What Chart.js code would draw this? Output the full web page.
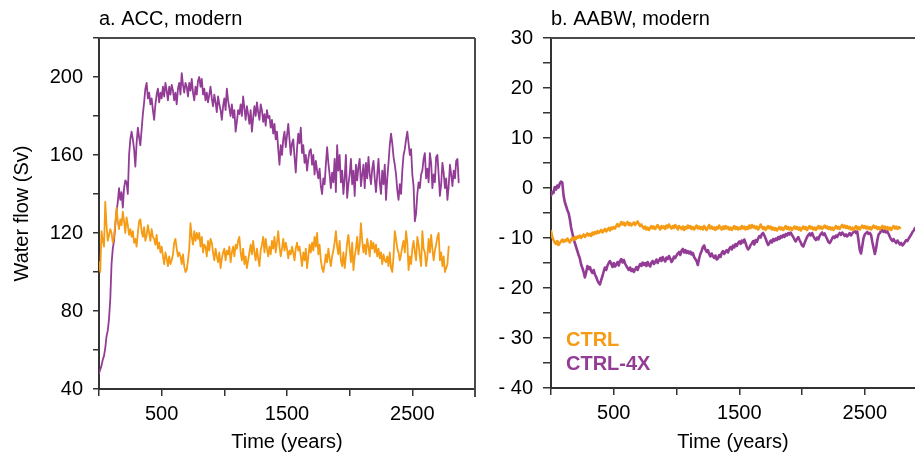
<!DOCTYPE html>
<html>
<head>
<meta charset="utf-8">
<script src="https://cdn.jsdelivr.net/npm/chart.js@4/dist/chart.umd.min.js"></script>
<style>
html,body{margin:0;padding:0;background:#fff;overflow:hidden;width:915px;height:459px;}
#c1{position:absolute;left:0;top:0;}
#c2{position:absolute;left:490px;top:0;}
</style>
</head>
<body>
<canvas id="c1" width="490" height="459"></canvas>
<canvas id="c2" width="425" height="459"></canvas>
<script>
// ---------------- data (one value every 10 years) ----------------
const yearStep = 10;
const seriesNames = ['CTRL', 'CTRL-4X'];
const panelTitles = ['a. ACC, modern', 'b. AABW, modern'];
const xTitle = 'Time (years)';
const yTitle = 'Water flow (Sv)';

// panel a, CTRL (years 0..2790)
const accCtrl = [
 105,100,121,116,113,136,124,116,119,122,
 120,115,118,125,133,126,122,127,124,131,
 126,120,128,124,119,122,118,121,115,117,
 113,120,126,127,121,118,123,116,119,124,
 120,116,122,118,117,114,119,112,115,110,
 113,108,104,110,107,103,108,104,106,109,
 115,117,112,108,110,108,104,109,103,100,
 101,106,112,125,118,114,121,116,120,117,
 120,113,118,110,114,113,108,116,111,117,
 115,110,106,112,108,105,110,102,107,110,
 112,106,111,109,113,105,110,113,108,114,
 112,116,118,110,106,112,104,108,102,106,
 110,114,109,116,110,106,112,107,103,111,
 114,118,110,117,112,108,113,109,116,112,
 118,110,115,121,113,108,112,117,111,115,
 112,107,111,109,113,110,106,112,115,111,
 113,108,103,110,106,112,102,108,114,110,
 115,111,118,113,120,109,114,106,102,100,
 104,109,105,112,107,103,108,111,115,121,
 113,109,116,106,103,110,102,108,115,119,
 112,105,115,101,108,112,118,109,114,125,
 116,110,114,109,117,113,108,116,112,115,
 110,114,108,112,107,110,104,109,106,105,
 108,103,110,102,100,108,121,117,112,110,
 106,109,113,116,110,121,115,101,108,104,
 112,116,110,106,118,114,108,103,121,112,
 110,103,108,117,110,119,112,106,111,114,
 118,120,106,110,103,108,100,102,104,113
];

// panel a, CTRL-4X (years 0..2870)
const accCtrl4x = [
 48,50,52,55,57,61,67,70,76,86,
 104,112,116,124,131,136,143,137,141,133,
 143,147,146,140,160,168,172,168,163,154,
 166,174,169,165,173,181,187,194,197,189,
 192,186,189,183,178,186,191,194,187,192,
 189,195,190,197,193,188,195,191,196,193,
 188,192,186,194,197,191,202,196,192,197,
 195,190,197,193,199,192,188,195,191,198,
 200,195,199,191,194,188,192,187,191,195,
 189,185,191,187,182,190,186,183,178,185,
 189,183,194,188,184,180,186,179,183,172,
 177,183,181,186,180,190,184,178,185,181,
 176,183,172,179,185,180,187,182,178,186,
 183,177,181,175,183,179,180,174,178,171,
 176,168,172,163,155,165,160,168,172,164,
 170,176,168,160,166,168,159,151,163,171,
 166,174,161,165,156,160,152,158,162,163,
 155,160,150,157,152,148,153,144,140,148,
 145,155,164,156,150,143,151,146,158,141,
 165,152,160,146,152,140,148,160,138,145,
 150,158,145,152,139,155,147,154,158,144,
 150,155,143,156,148,159,150,145,153,157,
 148,141,150,158,146,140,152,145,155,137,
 148,156,165,171,166,159,155,150,142,137,
 145,140,152,160,163,168,172,166,160,163,
 150,144,126,130,140,146,143,150,152,158,
 161,148,153,146,161,156,143,150,146,159,
 160,150,139,145,156,151,143,148,137,144,
 155,150,144,152,148,157,158,146
];

// panel b, CTRL (years 0..2780)
const aabwCtrl = [
 -8.6,-9.8,-10.4,-10.9,-11.2,-10.6,-11.4,-11.0,-10.7,-10.3,
 -10.8,-10.4,-10.6,-10.1,-10.5,-10.9,-10.3,-10.0,-10.4,-9.8,
 -10.2,-9.7,-9.9,-9.5,-10.0,-9.6,-9.3,-9.8,-9.4,-9.1,
 -9.5,-9.2,-9.6,-8.9,-9.3,-8.8,-9.1,-8.6,-9.0,-8.7,
 -8.4,-8.9,-8.5,-8.2,-8.7,-8.3,-8.0,-8.5,-7.9,-8.2,
 -7.8,-8.1,-7.6,-7.2,-7.7,-7.4,-6.8,-7.3,-6.9,-7.5,
 -7.1,-6.8,-7.4,-7.0,-7.5,-7.2,-6.9,-7.4,-7.0,-6.7,
 -7.2,-7.6,-7.3,-7.8,-8.1,-7.7,-8.3,-7.9,-8.4,-8.0,
 -7.6,-8.1,-7.7,-8.2,-7.8,-7.4,-7.9,-8.3,-7.6,-8.0,
 -7.7,-8.2,-7.5,-7.9,-7.3,-7.8,-8.1,-7.6,-8.0,-7.4,
 -7.8,-8.3,-7.6,-7.9,-8.2,-7.7,-8.4,-7.8,-8.1,-7.5,
 -8.0,-7.6,-8.2,-7.8,-8.3,-7.9,-7.5,-8.1,-7.7,-8.2,
 -7.8,-8.3,-7.6,-8.0,-8.4,-7.9,-7.4,-8.1,-7.7,-8.2,
 -7.9,-8.4,-7.8,-8.1,-7.5,-8.0,-8.3,-7.7,-8.2,-7.6,
 -8.1,-7.8,-8.3,-7.9,-8.4,-8.0,-7.6,-8.2,-7.8,-8.3,
 -7.9,-8.2,-7.6,-8.1,-7.7,-8.3,-7.8,-8.2,-7.5,-8.0,
 -7.4,-7.9,-7.6,-8.1,-7.7,-8.3,-7.9,-7.3,-7.8,-8.2,
 -7.8,-8.4,-8.0,-7.6,-8.1,-7.7,-8.3,-7.9,-8.4,-8.0,
 -8.5,-8.1,-7.8,-8.3,-7.9,-8.4,-8.0,-7.6,-8.2,-7.8,
 -8.3,-7.9,-8.4,-8.0,-7.7,-8.2,-7.8,-8.3,-7.9,-8.5,
 -8.1,-7.7,-8.2,-7.8,-8.4,-8.0,-7.6,-8.1,-7.8,-8.3,
 -7.9,-8.4,-8.0,-7.6,-8.1,-7.7,-8.2,-7.9,-7.5,-8.0,
 -7.7,-8.2,-7.8,-8.3,-7.9,-8.4,-8.0,-7.6,-8.1,-7.8,
 -8.2,-7.7,-7.4,-7.9,-7.5,-8.0,-7.6,-8.1,-7.8,-8.3,
 -7.9,-8.4,-8.0,-7.6,-8.2,-7.8,-8.3,-7.9,-7.5,-8.0,
 -7.6,-8.1,-7.7,-8.2,-7.8,-8.3,-7.9,-7.5,-8.0,-7.7,
 -8.2,-7.8,-8.3,-7.9,-7.6,-8.1,-7.7,-8.2,-7.8,-8.3,
 -7.9,-8.4,-8.0,-7.6,-8.1,-7.7,-8.2,-7.8,-8.0
];

// panel b, CTRL-4X (years 0..2900)
const aabwCtrl4x = [
 -1.5,-0.8,-1.0,0.2,-0.3,0.5,0.1,0.9,1.3,1.1,
 -1.5,-2.8,-3.6,-4.4,-5.0,-6.2,-7.9,-9.0,-10.2,-11.0,
 -11.8,-12.6,-13.4,-14.1,-15.3,-16.0,-16.8,-17.9,-16.9,-15.6,
 -16.2,-15.8,-16.6,-17.0,-16.4,-17.3,-17.8,-18.5,-19.0,-19.3,
 -18.4,-17.6,-16.7,-15.9,-16.4,-15.5,-15.0,-14.6,-15.2,-15.8,
 -15.0,-15.7,-15.3,-14.8,-15.5,-14.6,-14.2,-14.9,-14.4,-15.1,
 -15.6,-16.0,-16.4,-15.9,-16.6,-16.2,-16.8,-16.3,-15.8,-16.4,
 -15.7,-15.2,-15.6,-14.9,-15.4,-15.0,-15.6,-14.8,-15.3,-15.7,
 -14.9,-14.6,-15.2,-14.8,-14.3,-15.0,-14.5,-14.0,-14.6,-13.8,
 -14.3,-14.7,-13.9,-14.2,-13.6,-14.1,-14.8,-14.4,-13.7,-14.0,
 -13.5,-13.1,-12.8,-13.4,-12.5,-12.2,-12.9,-12.4,-13.0,-12.6,
 -13.1,-12.7,-13.3,-13.0,-13.8,-14.2,-14.6,-15.4,-14.1,-13.2,
 -12.6,-11.8,-11.5,-12.3,-12.8,-12.4,-13.2,-13.7,-13.1,-13.6,
 -14.0,-13.5,-14.3,-14.1,-13.4,-13.8,-13.0,-12.6,-13.2,-12.8,
 -12.4,-12.9,-12.2,-11.8,-12.3,-11.5,-11.9,-11.2,-11.6,-11.0,
 -10.7,-11.2,-10.5,-10.9,-10.3,-11.0,-11.8,-12.3,-12.0,-11.4,
 -11.1,-10.6,-11.3,-10.4,-10.8,-10.1,-9.6,-9.9,-9.2,-9.0,
 -9.5,-10.1,-10.8,-11.4,-11.0,-10.5,-10.9,-10.2,-10.6,-10.1,
 -10.4,-9.8,-10.2,-9.6,-9.9,-9.4,-9.8,-9.2,-9.5,-9.0,
 -9.3,-8.9,-9.4,-9.8,-10.3,-10.7,-10.2,-9.8,-10.4,-10.9,
 -11.5,-11.7,-11.0,-10.4,-9.8,-9.4,-9.1,-9.5,-9.0,-9.6,
 -10.1,-10.4,-9.9,-10.3,-9.6,-9.2,-8.9,-9.4,-9.1,-9.7,
 -10.2,-10.8,-11.0,-10.6,-10.1,-9.7,-10.0,-9.5,-9.8,-9.3,
 -9.0,-9.4,-8.9,-9.2,-9.6,-9.3,-9.7,-9.4,-9.0,-9.5,
 -9.1,-8.8,-8.6,-9.0,-8.7,-10.5,-12.4,-13.1,-11.6,-10.0,
 -9.3,-9.0,-8.8,-9.2,-9.0,-9.4,-10.8,-12.0,-13.2,-12.1,
 -10.4,-9.3,-9.0,-8.6,-8.4,-8.8,-8.5,-8.9,-8.7,-9.2,
 -9.8,-10.3,-10.6,-10.2,-10.7,-11.0,-10.5,-10.9,-11.3,-11.0,
 -11.5,-11.2,-10.8,-10.4,-10.6,-10.1,-9.7,-9.3,-8.8,-8.5,
 -8.0
];

// axes
const accXTicks = [0, 500, 1000, 1500, 2000, 2500, 3000];
const aabwXTicks = [0, 500, 1000, 1500, 2000, 2500];
const xLabeled = [500, 1500, 2500];
const accYTicks = [40, 60, 80, 100, 120, 140, 160, 180, 200, 220];
const accYLabeled = [40, 80, 120, 160, 200];
const aabwYTicks = [-40, -35, -30, -25, -20, -15, -10, -5, 0, 5, 10, 15, 20, 25, 30];
const aabwYLabeled = [-40, -30, -20, -10, 0, 10, 20, 30];
const aabwYLabels = ['- 40', '- 30', '- 20', '- 10', '0', '10', '20', '30'];

// ---------------- styling ----------------
const ORANGE = '#F59B14';
const PURPLE = '#923C96';
const FONT = "'Liberation Sans', Arial, Helvetica, sans-serif";
const AXIS = '#333333';

function toPts(arr) { return arr.map((v, i) => ({x: i * yearStep, y: v})); }
function setTicks(list) { return s => { s.ticks = list.map(v => ({value: v})); }; }

const framePlugin = {
  id: 'frame',
  afterDraw(chart, args, o) {
    const {ctx} = chart;
    const {left, right, top, bottom} = chart.chartArea;
    ctx.save();
    ctx.strokeStyle = '#4a4a4a';
    ctx.lineWidth = 2;
    ctx.beginPath();
    ctx.moveTo(left, top);
    ctx.lineTo(o.toEdge ? chart.width : right, top);
    if (o.rightSide) {
      ctx.moveTo(right, top);
      ctx.lineTo(right, bottom + 8);
    }
    ctx.stroke();
    ctx.restore();
  }
};

const textLegend = {
  id: 'textLegend',
  afterDraw(chart, args, o) {
    if (!o.show) return;
    const {ctx} = chart;
    const {left, bottom} = chart.chartArea;
    ctx.save();
    ctx.font = 'bold 20px ' + FONT;
    ctx.textAlign = 'left';
    ctx.textBaseline = 'alphabetic';
    chart.data.datasets.forEach((ds, i) => {
      ctx.fillStyle = ds.borderColor;
      ctx.fillText(ds.label, left + 15, bottom - 42 + i * 24);
    });
    ctx.restore();
  }
};

function makeChart(canvasId, cfg) {
  return new Chart(document.getElementById(canvasId), {
    type: 'line',
    data: {
      datasets: [
        {label: seriesNames[0], data: toPts(cfg.ctrl), borderColor: ORANGE, backgroundColor: ORANGE, borderWidth: cfg.lw},
        {label: seriesNames[1], data: toPts(cfg.ctrl4x), borderColor: PURPLE, backgroundColor: PURPLE, borderWidth: cfg.lw}
      ]
    },
    options: {
      responsive: false,
      animation: false,
      devicePixelRatio: 1,
      layout: {padding: {left: 0, right: cfg.padRight, top: 0, bottom: 0}},
      elements: {point: {radius: 0, hoverRadius: 0}, line: {tension: 0, borderCapStyle: 'round', borderJoinStyle: 'round'}},
      events: [],
      plugins: {
        legend: {display: false},
        tooltip: {enabled: false},
        title: {
          display: true, text: cfg.title, align: 'start', fullSize: false,
          color: '#000', font: {family: FONT, size: 20, weight: 'normal', lineHeight: 1.2},
          padding: {top: 7, bottom: 7}
        },
        frame: {toEdge: cfg.toEdge, rightSide: cfg.rightSide},
        textLegend: {show: cfg.legend}
      },
      scales: {
        x: {
          type: 'linear', min: 0, max: cfg.xMax,
          afterBuildTicks: setTicks(cfg.xTicks),
          afterFit: s => { s.height = cfg.xHeight; },
          ticks: {
            autoSkip: false, maxRotation: 0, padding: 6, color: '#000',
            font: {family: FONT, size: 20, lineHeight: 1.2},
            callback: v => xLabeled.includes(v) ? String(v) : ''
          },
          grid: {drawOnChartArea: false, drawTicks: true, tickLength: 7, color: AXIS, lineWidth: 1.5},
          border: {display: true, color: AXIS, width: 2},
          title: {display: true, text: xTitle, color: '#000', font: {family: FONT, size: 20, lineHeight: 1.2}, padding: {top: 0, bottom: 5}}
        },
        y: {
          min: cfg.yMin, max: cfg.yMax,
          afterBuildTicks: setTicks(cfg.yTicks),
          afterFit: s => { s.width = cfg.yWidth; },
          ticks: {
            autoSkip: false, padding: cfg.yPad, color: '#000',
            font: {family: FONT, size: 20, lineHeight: 1.2},
            callback: cfg.yLabel
          },
          grid: {drawOnChartArea: false, drawTicks: true, tickLength: cfg.yTickLen, color: AXIS, lineWidth: 1.5},
          border: {display: true, color: AXIS, width: 2},
          title: {display: cfg.yTitle, text: yTitle, color: '#000', font: {family: FONT, size: 20, lineHeight: 1.2}, padding: {top: 10, bottom: 0}}
        }
      }
    },
    plugins: [framePlugin, textLegend]
  });
}

makeChart('c1', {
  ctrl: accCtrl, ctrl4x: accCtrl4x, lw: 1.8, title: panelTitles[0],
  padRight: 15, toEdge: false, rightSide: true, legend: false,
  xMax: 3000, xTicks: accXTicks, xHeight: 70,
  yMin: 40, yMax: 220, yTicks: accYTicks, yWidth: 99, yPad: 10, yTickLen: 6, yTitle: true,
  yLabel: v => accYLabeled.includes(v) ? String(v) : ''
});

makeChart('c2', {
  ctrl: aabwCtrl, ctrl4x: aabwCtrl4x, lw: 2.6, title: panelTitles[1],
  padRight: 0, toEdge: true, rightSide: false, legend: true,
  xMax: 2900, xTicks: aabwXTicks, xHeight: 71,
  yMin: -40, yMax: 30, yTicks: aabwYTicks, yWidth: 61, yPad: 10, yTickLen: 8, yTitle: false,
  yLabel: v => { const i = aabwYLabeled.indexOf(v); return i >= 0 ? aabwYLabels[i] : ''; }
});
</script>
</body>
</html>
